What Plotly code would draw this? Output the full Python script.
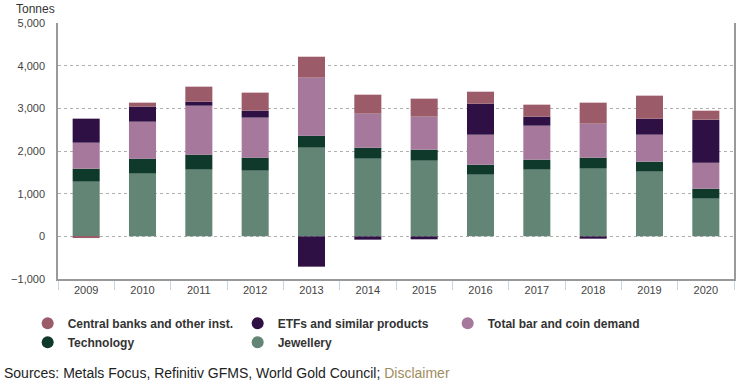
import plotly.graph_objects as go

years = ["2009", "2010", "2011", "2012", "2013", "2014", "2015", "2016", "2017", "2018", "2019", "2020"]
jewellery = [1281, 1469, 1563, 1539, 2078, 1820, 1773, 1445, 1563, 1586, 1516, 883]
technology = [305, 351, 351, 305, 281, 258, 258, 234, 234, 258, 234, 234]
bar_coin = [609, 867, 1148, 938, 1359, 797, 774, 703, 797, 797, 633, 610]
etfs = [563, 352, 94, 164, -711, -78, -70, 727, 211, -55, 375, 1007]
central_banks = [-40, 94, 352, 422, 492, 445, 422, 281, 281, 492, 539, 211]

series = [
    ("Jewellery", jewellery, "#628576"),
    ("Technology", technology, "#0f3a2b"),
    ("Total bar and coin demand", bar_coin, "#a6789c"),
    ("ETFs and similar products", etfs, "#2e1044"),
    ("Central banks and other inst.", central_banks, "#9b5b68"),
]
legend_order = ["Central banks and other inst.", "ETFs and similar products",
                "Total bar and coin demand", "Technology", "Jewellery"]

fig = go.Figure()
for name, vals, col in series:
    fig.add_trace(go.Bar(x=years, y=vals, name=name, marker=dict(color=col, line=dict(width=0)),
                         showlegend=False))
colors = {n: c for n, _, c in series}
for name in legend_order:
    fig.add_trace(go.Scatter(x=[None], y=[None], mode="markers", name=name,
                             marker=dict(color=colors[name], size=12, symbol="circle")))

fig.update_layout(
    width=748, height=388,
    margin=dict(l=58, r=14, t=23, b=109),
    barmode="relative", bargap=0.52,
    plot_bgcolor="white", paper_bgcolor="white",
    font=dict(family="Liberation Sans, Arial, sans-serif", size=11, color="#444"),
    legend=dict(orientation="h", xref="container", yref="container", x=0.037, y=0.204,
                xanchor="left", yanchor="top", entrywidth=165, entrywidthmode="pixels",
                font=dict(size=12, color="#333", weight="bold"), tracegroupgap=0,
                itemclick=False, bgcolor="rgba(0,0,0,0)"),
    xaxis=dict(type="category", showline=True, linecolor="#999", linewidth=1.5,
               ticks="outside", tickson="boundaries", ticklen=9, tickcolor="#c5d2e8",
               tickfont=dict(size=11, color="#444"), showgrid=False, automargin=False),
    yaxis=dict(range=[-1000, 5000], dtick=1000, tickformat=",", showline=True, mirror=True,
               linecolor="#999", linewidth=1.5, showgrid=True, gridcolor="#b0b0b0", griddash="dot",
               zeroline=False, tickfont=dict(size=11, color="#444"), ticks="", ticklabelstandoff=9,
               automargin=False),
    annotations=[
        dict(text="Tonnes", xref="paper", yref="paper", x=-0.0651, y=1.055, xanchor="left",
             yanchor="middle", showarrow=False, font=dict(size=12, color="#333")),
        dict(text="Sources: Metals Focus, Refinitiv GFMS, World Gold Council; <span style='color:#a08c5e'>Disclaimer</span>",
             xref="paper", yref="paper", x=-0.0828, y=-0.367, xanchor="left", yanchor="middle",
             showarrow=False, font=dict(size=14, color="#222")),
    ],
)
fig.write_html("out.html", post_script="document.body.style.margin='0';",
               config={"displayModeBar": False})
